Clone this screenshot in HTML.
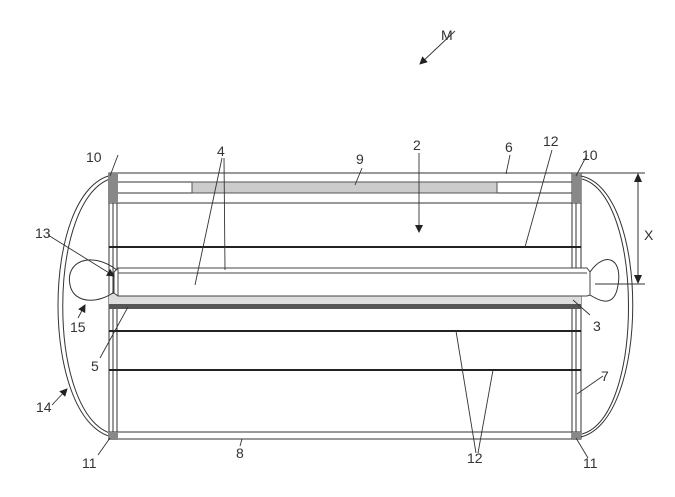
<!DOCTYPE html>
<html><head><style>body{margin:0;background:#fff}svg{display:block}text{font-family:"Liberation Sans",sans-serif;font-size:14px;fill:#333}</style></head>
<body>
<svg width="675" height="497" viewBox="0 0 675 497" xmlns="http://www.w3.org/2000/svg">
<defs><marker id="a" markerWidth="8" markerHeight="8" refX="7" refY="4" orient="auto" markerUnits="userSpaceOnUse"><path d="M0,0 L8,4 L0,8 z" fill="#222"/></marker></defs>
<g stroke="#333" fill="none" stroke-width="1">
<!-- end caps -->
<path d="M112,175 C40,190 40,420 112,437"/>
<path d="M113,178 C46,195 46,418 113,434"/>
<path d="M581,176 C650,190 650,420 581,437"/>
<path d="M582,179 C644,195 644,418 582,434"/>
<!-- frames -->
<rect x="109" y="173" width="472" height="266"/>
<line x1="113" y1="173" x2="113" y2="439"/>
<line x1="117" y1="173" x2="117" y2="439"/>
<line x1="572" y1="173" x2="572" y2="439"/>
<line x1="576" y1="173" x2="576" y2="439"/>
<line x1="109" y1="182" x2="581" y2="182"/>
<line x1="109" y1="193" x2="581" y2="193"/>
<line x1="109" y1="203" x2="581" y2="203"/>
<line x1="109" y1="432" x2="581" y2="432"/>
</g>
<rect x="192" y="182" width="305" height="11" fill="#ccc" stroke="#555"/>
<rect x="108" y="173" width="10" height="30" fill="#888"/>
<rect x="572" y="173" width="9" height="30" fill="#888"/>
<rect x="108" y="432" width="10" height="8" fill="#888"/>
<rect x="572" y="432" width="9" height="8" fill="#888"/>
<g stroke="#222" stroke-width="2">
<line x1="109" y1="247" x2="581" y2="247"/>
<line x1="109" y1="331" x2="581" y2="331"/>
<line x1="109" y1="370" x2="581" y2="370"/>
</g>
<!-- rod -->
<rect x="109" y="294" width="472" height="10" fill="#ddd"/>
<rect x="109" y="304" width="472" height="5" fill="#555"/>
<path d="M118,268 L587,268 L590,272 L590,295 L587,296 L118,296 L114,293 L114,272 Z" fill="#fff" stroke="#444"/>
<line x1="118" y1="273" x2="587" y2="273" stroke="#444"/>
<line x1="118" y1="268" x2="118" y2="296" stroke="#444"/>
<!-- loops -->
<g stroke="#333" fill="none">
<path d="M117,270 C90,250 65,262 70,285 C74,305 100,303 114,292"/>
<path d="M590,272 C605,250 625,258 617,290 C612,308 598,300 590,295"/>
</g>
<!-- dimension X -->
<g stroke="#333">
<line x1="581" y1="173" x2="645" y2="173"/>
<line x1="595" y1="284" x2="645" y2="284"/>
<line x1="638" y1="180" x2="638" y2="277"/>
</g>
<path d="M634,182 L638,173 L642,182Z M634,275 L638,284 L642,275Z" fill="#222"/>
<!-- leaders -->
<g stroke="#333" stroke-width="0.9">
<line x1="455" y1="31" x2="420" y2="64" marker-end="url(#a)"/>
<line x1="419" y1="153" x2="419" y2="232" marker-end="url(#a)"/>
<line x1="222" y1="158" x2="195" y2="285"/>
<line x1="224" y1="158" x2="225" y2="270"/>
<line x1="362" y1="168" x2="355" y2="185"/>
<line x1="510" y1="155" x2="506" y2="174"/>
<line x1="552" y1="150" x2="525" y2="247"/>
<line x1="587" y1="155" x2="576" y2="176"/>
<line x1="118" y1="155" x2="110" y2="176"/>
<line x1="48" y1="235" x2="114" y2="276" marker-end="url(#a)"/>
<line x1="78" y1="318" x2="85" y2="305" marker-end="url(#a)"/>
<line x1="100" y1="358" x2="128" y2="307"/>
<line x1="52" y1="405" x2="67" y2="389" marker-end="url(#a)"/>
<line x1="98" y1="455" x2="110" y2="438"/>
<line x1="240" y1="446" x2="242" y2="439"/>
<line x1="476" y1="453" x2="456" y2="331"/>
<line x1="478" y1="453" x2="493" y2="370"/>
<line x1="573" y1="300" x2="590" y2="315"/>
<line x1="603" y1="376" x2="577" y2="394"/>
<line x1="588" y1="458" x2="576" y2="438"/>
</g>
<text x="441" y="40">M</text>
<text x="413" y="150">2</text>
<text x="217" y="156">4</text>
<text x="356" y="164">9</text>
<text x="505" y="152">6</text>
<text x="543" y="146">12</text>
<text x="582" y="160">10</text>
<text x="86" y="162">10</text>
<text x="35" y="238">13</text>
<text x="70" y="332">15</text>
<text x="91" y="371">5</text>
<text x="36" y="412">14</text>
<text x="82" y="468">11</text>
<text x="236" y="458">8</text>
<text x="467" y="463">12</text>
<text x="593" y="331">3</text>
<text x="601" y="381">7</text>
<text x="583" y="468">11</text>
<text x="644" y="240">X</text>
</svg>
</body></html>
